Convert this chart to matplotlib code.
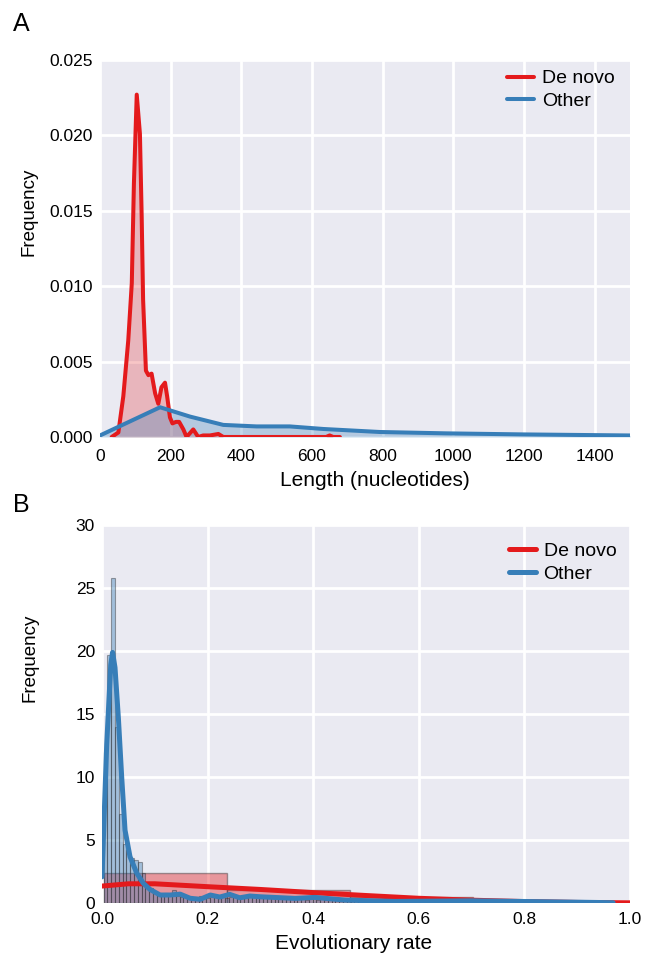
import numpy as np
import matplotlib
matplotlib.use('Agg')
import matplotlib.pyplot as plt
import seaborn as sns

# Painel A: densidade do comprimento (nucleotideos)
a_denovo_x = [33, 52, 66, 80, 90, 96, 104, 113, 118, 122, 130, 137, 146, 156, 165, 174,
              184, 190, 198, 205, 215, 224, 236, 245, 264, 278, 292, 311, 335, 349, 500,
              640, 650, 660, 679]
a_denovo_y = [0.0, 0.3, 2.7, 6.4, 10.2, 16.8, 22.7, 20.1, 14.6, 9.1, 4.4, 4.1, 4.2, 2.9,
              2.2, 3.3, 3.6, 2.7, 1.3, 0.9, 1.0, 1.0, 0.5, 0.0, 0.5, 0.0, 0.1, 0.1, 0.2,
              0.0, 0.0, 0.0, 0.1, 0.0, 0.0]  # x 1e-3
a_other_x = [0, 170, 255, 349, 443, 537, 632, 792, 980, 1197, 1500]
a_other_y = [0.1, 1.97, 1.35, 0.8, 0.7, 0.7, 0.53, 0.33, 0.24, 0.17, 0.1]  # x 1e-3

# Painel B: taxa evolutiva
b_denovo_edges = [0.003, 0.236, 0.469, 0.702, 0.935]
b_denovo_hist = [2.37, 1.05, 0.47, 0.12]
b_denovo_kde_x = [0, 0.05, 0.1, 0.2, 0.3, 0.4, 0.5, 0.6, 0.7, 0.8, 0.9, 1.0]
b_denovo_kde_y = [1.37, 1.55, 1.55, 1.32, 1.1, 0.85, 0.62, 0.40, 0.25, 0.14, 0.07, 0.04]

b_other_start = 0.003
b_other_width = 0.0072
b_other_hist = [12.0, 19.7, 25.8, 14.0, 7.1, 4.7, 4.2, 3.6, 3.4, 3.3,
                2.4, 1.5, 1.2, 0.9, 0.8, 0.7, 0.8, 0.7, 1.05, 0.6,
                0.5, 0.6, 0.5, 0.4, 0.5, 0.6, 0.5, 0.4, 0.5, 0.5,
                0.6, 0.5, 0.4, 0.5, 0.6, 0.5, 0.5, 0.4, 0.5, 0.6,
                0.5, 0.4, 0.5, 0.4, 0.5, 0.5, 0.4, 0.4, 0.5, 0.4,
                0.4, 0.5, 0.4, 0.3, 0.4, 0.4, 0.3, 0.4, 0.3, 0.3,
                0.3, 0.3, 0.2, 0.3, 0.2, 0.2, 0.3, 0.2, 0.2, 0.2,
                0.2, 0.2, 0.2, 0.3, 0.2, 0.2, 0.2, 0.2, 0.1, 0.2,
                0.2, 0.2, 0.2, 0.1, 0.2, 0.2, 0.2, 0.1, 0.2, 0.2,
                0.1, 0.1, 0.2, 0.1, 0.1, 0.2, 0.1, 0.1, 0.1, 0.1,
                0.1, 0.1, 0.1, 0.1, 0.1, 0.1, 0.1, 0.1, 0.1, 0.1,
                0.1, 0.1, 0.1, 0.05, 0.1, 0.05, 0.05, 0.1, 0.05, 0.05,
                0.05, 0.05, 0.05, 0.05, 0.05, 0.05, 0.05, 0.05, 0.05, 0.05,
                0.05, 0.05, 0.05, 0.05]
b_other_kde_x = [0, 0.0089, 0.0165, 0.02, 0.0246, 0.031, 0.0373, 0.0436, 0.053, 0.0657,
                 0.078, 0.091, 0.11, 0.129, 0.148, 0.167, 0.186, 0.205, 0.223, 0.242,
                 0.261, 0.28, 0.30, 0.366, 0.403, 0.46, 0.555, 0.7, 0.85, 0.968]
b_other_kde_y = [2.1, 12.6, 18.9, 19.9, 18.7, 14.7, 10.0, 5.8, 3.7, 2.4,
                 1.6, 1.1, 0.66, 0.66, 0.73, 0.4, 0.32, 0.66, 0.5, 0.71,
                 0.44, 0.58, 0.52, 0.39, 0.47, 0.26, 0.15, 0.2, 0.12, 0.05]

vermelho = '#e41a1c'
azul = '#377eb8'

sns.set_style('darkgrid')
plt.rcParams['font.family'] = ['Liberation Sans', 'DejaVu Sans']
plt.rcParams['grid.linewidth'] = 2.0
plt.rcParams['text.color'] = 'black'
plt.rcParams['axes.labelcolor'] = 'black'
plt.rcParams['xtick.color'] = 'black'
plt.rcParams['ytick.color'] = 'black'

fig = plt.figure(figsize=(6.51, 9.73), dpi=100)
ax1 = fig.add_axes([0.1536, 0.5509, 0.8141, 0.3875])
ax2 = fig.add_axes([0.1567, 0.0716, 0.8110, 0.3888])

# --- A ---
ay_d = np.array(a_denovo_y) * 1e-3
ay_o = np.array(a_other_y) * 1e-3
ax1.fill_between(a_denovo_x, ay_d, color=vermelho, alpha=0.25, lw=0)
ax1.fill_between(a_other_x, ay_o, color=azul, alpha=0.3, lw=0)
ax1.plot(a_denovo_x, ay_d, color=vermelho, lw=2.9, label='De novo')
ax1.plot(a_other_x, ay_o, color=azul, lw=2.9, label='Other')
ax1.set_xlim(0, 1500)
ax1.set_ylim(0, 0.025)
ax1.set_xticks(range(0, 1401, 200))
ax1.set_yticks(np.arange(0, 0.0251, 0.005))
ax1.set_yticklabels(['%.3f' % v for v in np.arange(0, 0.0251, 0.005)])
ax1.set_xlabel('Length (nucleotides)', fontsize=15)
ax1.set_ylabel('Frequency', fontsize=13.5)
ax1.xaxis.set_label_coords(0.518, -0.09)
ax1.yaxis.set_label_coords(-0.117, 0.597)
ax1.tick_params(axis='x', pad=9)
ax1.legend(loc='upper right', bbox_to_anchor=(0.997, 1.01), frameon=False, fontsize=14,
           handlelength=1.4, handletextpad=0.4, labelspacing=0.25, borderaxespad=0.3)

# --- B ---
larg_d = np.diff(b_denovo_edges)
ax2.bar(b_denovo_edges[:-1], b_denovo_hist, width=larg_d, align='edge',
        facecolor=vermelho, alpha=0.4, edgecolor='#222222', lw=1.0, zorder=2)
esq_o = b_other_start + b_other_width * np.arange(len(b_other_hist))
ax2.bar(esq_o, b_other_hist, width=b_other_width, align='edge',
        facecolor=azul, alpha=0.4, edgecolor='#222222', lw=0.8, zorder=3)
ax2.plot(b_denovo_kde_x, b_denovo_kde_y, color=vermelho, lw=3.6, label='De novo', zorder=4)
ax2.plot(b_other_kde_x, b_other_kde_y, color=azul, lw=3.6, label='Other', zorder=5)
ax2.set_xlim(0, 1.0)
ax2.set_ylim(0, 30)
ax2.set_xticks(np.arange(0, 1.01, 0.2))
ax2.set_xticklabels(['%.1f' % v for v in np.arange(0, 1.01, 0.2)])
ax2.set_yticks(range(0, 31, 5))
ax2.set_xlabel('Evolutionary rate', fontsize=15)
ax2.set_ylabel('Frequency', fontsize=13.5)
ax2.xaxis.set_label_coords(0.477, -0.082)
ax2.yaxis.set_label_coords(-0.121, 0.648)
ax2.tick_params(axis='x', pad=6)
ax2.legend(loc='upper right', bbox_to_anchor=(1.0, 0.99), frameon=False, fontsize=14,
           handlelength=1.4, handletextpad=0.4, labelspacing=0.25, borderaxespad=0.3)

for ax in (ax1, ax2):
    ax.tick_params(labelsize=12.5, length=0)
    ax.tick_params(axis='y', pad=5)
    for s in ax.spines.values():
        s.set_visible(False)

fig.text(0.02, 0.975, 'A', fontsize=18, va='center')
fig.text(0.02, 0.481, 'B', fontsize=18, va='center')

fig.savefig('out.png', dpi=100)
